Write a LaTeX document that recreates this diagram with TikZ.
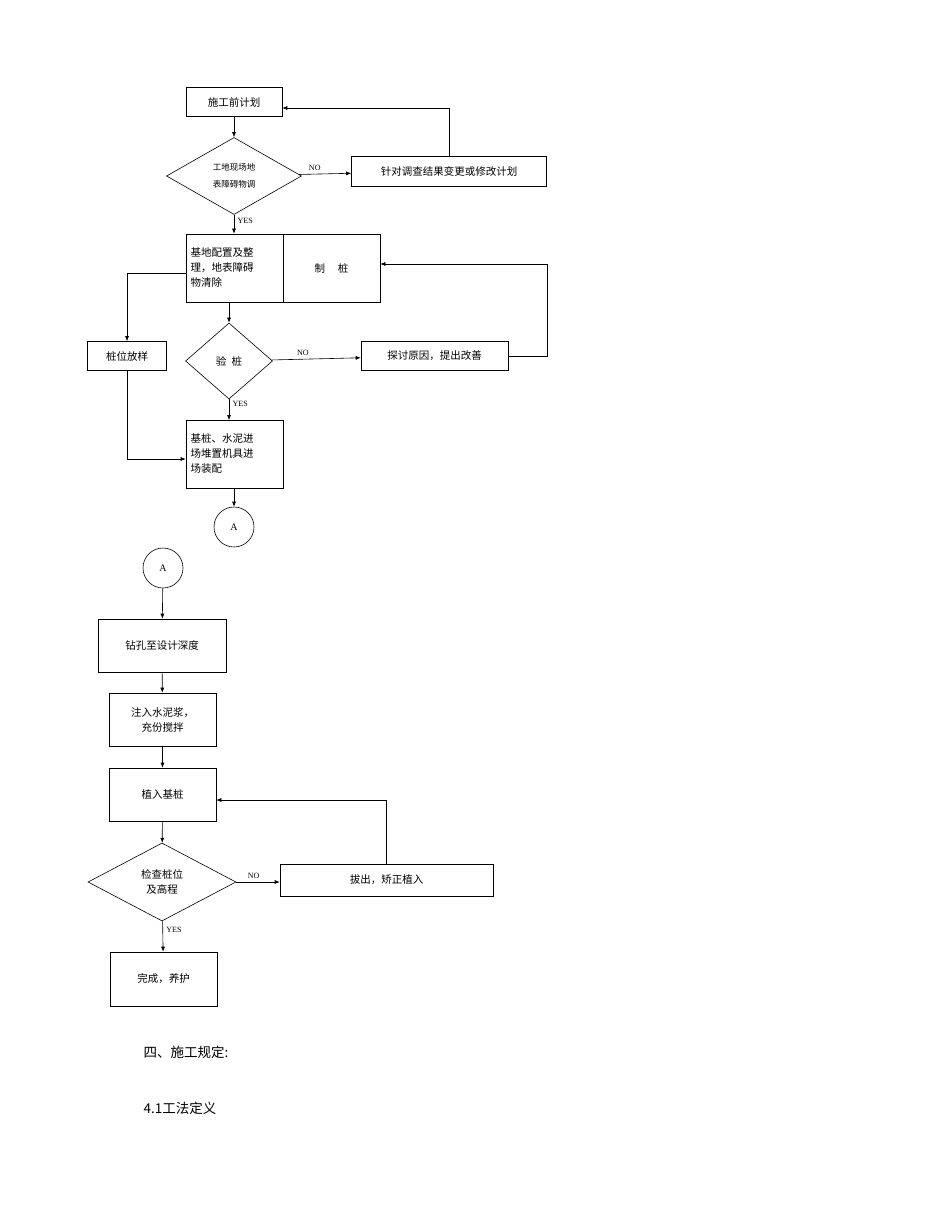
\documentclass[tikz,border=0pt]{standalone}
\usepackage{fontspec}
\setmainfont{Liberation Serif}
\newfontfamily\cjk{Noto Sans CJK SC}
\usetikzlibrary{arrows.meta, shapes.geometric}

\begin{document}
\begin{tikzpicture}[x=1pt, y=-1pt,
            task/.style={draw, semithick, inner sep=2pt, font=\cjk\fontsize{10.5}{15}\selectfont},
            check/.style={diamond, draw, semithick, inner sep=0pt, align=center, font=\cjk\fontsize{10.5}{15}\selectfont},
            joint/.style={circle, draw, semithick, minimum size=40pt, inner sep=0pt, font=\fontsize{10}{12}\selectfont},
            flow/.style={draw, semithick, -{Latex[length=5pt, width=4pt]}},
            answer/.style={font=\fontsize{8}{10}\selectfont},
            prose/.style={anchor=west, font=\cjk\fontsize{13.5}{16}\selectfont}
        ]
            \useasboundingbox (0,0) rectangle (950,1230);

            % Preparation stage
            \node[task, minimum width=96pt, minimum height=29pt] (plan) at (234,102) {施工前计划};
            \node[check, minimum width=135pt, minimum height=77pt, font=\cjk\fontsize{8.5}{17}\selectfont] (survey) at (234,176) {工地现场地\\表障碍物调};
            \node[task, minimum width=195pt, minimum height=30pt] (revise) at (449,171) {针对调查结果变更或修改计划};
            \node[task, minimum width=97pt, minimum height=68pt, align=left, text width=88pt] (site) at (234.5,268) {基地配置及整\\理，地表障碍\\物清除};
            \node[task, minimum width=97pt, minimum height=68pt] (make) at (331.5,268) {制\hspace{1.2em}桩};
            \node[task, minimum width=79pt, minimum height=29pt] (stake) at (127,356) {桩位放样};
            \node[check, minimum width=87pt, minimum height=76pt] (inspect) at (229,361) {验\hspace{0.5em}桩};
            \node[task, minimum width=147pt, minimum height=29pt] (cause) at (434.5,356) {探讨原因，提出改善};
            \node[task, minimum width=97pt, minimum height=68pt, align=left, text width=88pt] (supply) at (234.5,454) {基桩、水泥进\\场堆置机具进\\场装配};
            \node[joint] (out) at (234,527) {A};

            % Piling stage
            \node[joint] (back) at (163,568) {A};
            \node[task, minimum width=128pt, minimum height=53pt] (drill) at (162,645.5) {钻孔至设计深度};
            \node[task, minimum width=107pt, minimum height=53pt, align=center] (grout) at (162.5,719.5) {注入水泥浆，\\充份搅拌};
            \node[task, minimum width=107pt, minimum height=53pt] (plant) at (162.5,794.5) {植入基桩};
            \node[check, minimum width=148pt, minimum height=78pt] (level) at (162,882) {检查桩位\\及高程};
            \node[task, minimum width=213pt, minimum height=32pt] (pull) at (386.5,880) {拔出，矫正植入};
            \node[task, minimum width=107pt, minimum height=54pt] (done) at (163.5,979) {完成，养护};

            % Arrows
            \draw[flow] (plan) -- (survey);
            \draw[flow] (survey) -- node[answer, above, pos=0.3] {NO} (revise);
            \draw[flow] (revise.north) |- (plan.east |- 0,108);
            \draw[flow] (survey) -- node[answer, right, pos=0.3] {YES} (site.north -| plan);
            \draw[flow] (site.west |- 0,273) -| (stake.north);
            \draw[flow] (229,302) -- (inspect.north);
            \draw[flow] (inspect) -- node[answer, above, pos=0.35] {NO} (cause);
            \draw[flow] (cause.east) -| (547,264) -- (make.east |- 0,264);
            \draw[flow] (inspect.south) -- node[answer, right, pos=0.2] {YES} (229,420);
            \draw[flow] (stake.south) |- (supply.west |- 0,459);
            \draw[flow] (supply.south -| out) -- (out);
            \draw[flow] (back) -- (drill);
            \draw[flow] (drill) -- (grout);
            \draw[flow] (grout) -- (plant);
            \draw[flow] (plant) -- (level);
            \draw[flow] (level.east) -- node[answer, above, pos=0.4] {NO} (pull.west |- level.east);
            \draw[flow] (pull.north) |- (plant.east |- 0,800);
            \draw[flow] (level) -- node[answer, right, pos=0.3] {YES} (done);

            % Following text
            \node[prose] (rules) at (140,1052) {四、施工规定:};
            \node[prose] (method) at (140,1108) {4.1工法定义};
\end{tikzpicture}
\end{document}
